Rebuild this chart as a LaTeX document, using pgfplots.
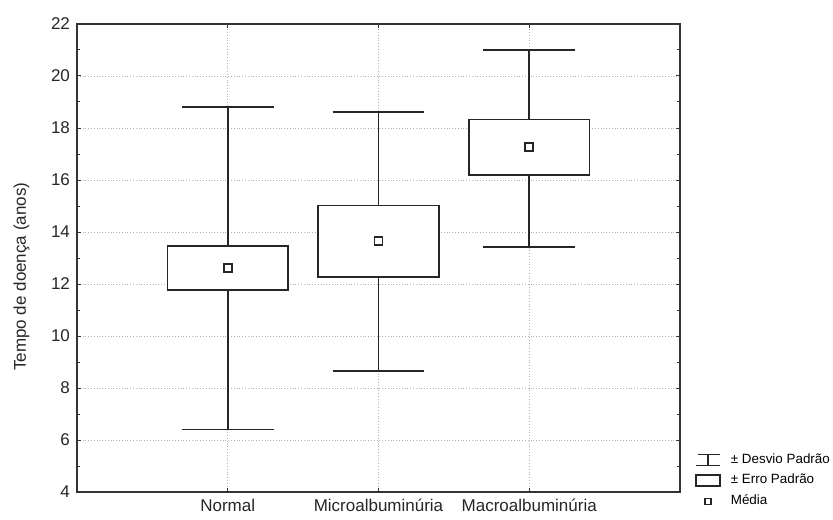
\documentclass[border=0pt]{standalone}
\usepackage{pgfplots}
\pgfplotsset{compat=1.18}
\usepackage{fontspec}
\setmainfont{Liberation Sans}

\begin{document}
\begin{tikzpicture}
\begin{axis}[
  at={(0,0)}, anchor=south west,
  scale only axis, width=301.5pt, height=234pt,
  xmin=0, xmax=4, ymin=4, ymax=22,
  xtick={1,2,3}, xticklabels={Normal, Microalbuminúria, Macroalbuminúria},
  ytick={4,6,...,22}, minor y tick num=1,
  tick align=inside, major tick length=2pt, minor tick length=1.5pt,
  grid=major, major grid style={densely dotted, gray!60, line width=0.4pt},
  axis line style={black!80, line width=0.75pt},
  tick style={black!80, line width=0.5pt},
  ticklabel style={font=\fontsize{8.5}{10}\selectfont, black!85},
  /pgf/number format/assume math mode=true,
  ylabel={Tempo de doença (anos)},
  ylabel style={font=\fontsize{8.5}{10}\selectfont, black!85, at={(axis description cs:-0.067,0.46)}, anchor=south},
  unbounded coords=jump,
  legend style={at={(1.025,-0.043)}, anchor=south west, draw=none, fill=none,
    font=\fontsize{6.7}{8}\selectfont, row sep=0pt, column sep=3pt, inner sep=0pt},
  legend cell align=left,
]
\addlegendimage{legend image code/.code={
  \draw[black!85, line width=0.7pt] (0pt,-2.75pt) -- (12pt,-2.75pt);
  \draw[black!85, line width=0.7pt] (1pt,2.75pt) -- (12pt,2.75pt);
  \draw[black!85, line width=0.7pt] (6pt,-2.75pt) -- (6pt,2.75pt);}}
\addlegendentry{± Desvio Padrão}
\addlegendimage{legend image code/.code={
  \draw[black!85, line width=0.7pt] (0pt,-2.75pt) rectangle (12pt,2.75pt);}}
\addlegendentry{± Erro Padrão}
\addlegendimage{legend image code/.code={
  \draw[black!85, line width=0.7pt, fill=white] (4.5pt,-1.5pt) rectangle (7.5pt,1.5pt);}}
\addlegendentry{Média}

% whiskers (± desvio padrão)
\addplot[forget plot, draw=black!85, line width=0.8pt] coordinates {
  (1,13.46) (1,18.8) (1,nan) (0.695,18.8) (1.305,18.8) (1,nan)
  (1,11.78) (1,6.4) (1,nan) (0.695,6.4) (1.305,6.4) (1,nan)
  (2,15.02) (2,18.62) (2,nan) (1.695,18.62) (2.305,18.62) (2,nan)
  (2,12.27) (2,8.65) (2,nan) (1.695,8.65) (2.305,8.65) (2,nan)
  (3,18.32) (3,21.0) (3,nan) (2.695,21.0) (3.305,21.0) (3,nan)
  (3,16.19) (3,13.43) (3,nan) (2.695,13.43) (3.305,13.43)
};
% boxes (± erro padrão)
\addplot[forget plot, draw=black!85, fill=white, line width=0.8pt] coordinates {
  (0.6,11.78) (1.4,11.78) (1.4,13.46) (0.6,13.46)} -- cycle;
\addplot[forget plot, draw=black!85, fill=white, line width=0.8pt] coordinates {
  (1.6,12.27) (2.4,12.27) (2.4,15.02) (1.6,15.02)} -- cycle;
\addplot[forget plot, draw=black!85, fill=white, line width=0.8pt] coordinates {
  (2.6,16.19) (3.4,16.19) (3.4,18.32) (2.6,18.32)} -- cycle;
% means
\addplot[forget plot, only marks, mark=square*, mark size=2pt,
  mark options={draw=black!85, fill=white, line width=0.8pt}]
  coordinates {(1,12.62) (2,13.65) (3,17.26)};
\end{axis}
\pgfresetboundingbox
\path[use as bounding box] (-38.5pt,-13.5pt) rectangle (378pt,246pt);
\end{tikzpicture}
\end{document}
